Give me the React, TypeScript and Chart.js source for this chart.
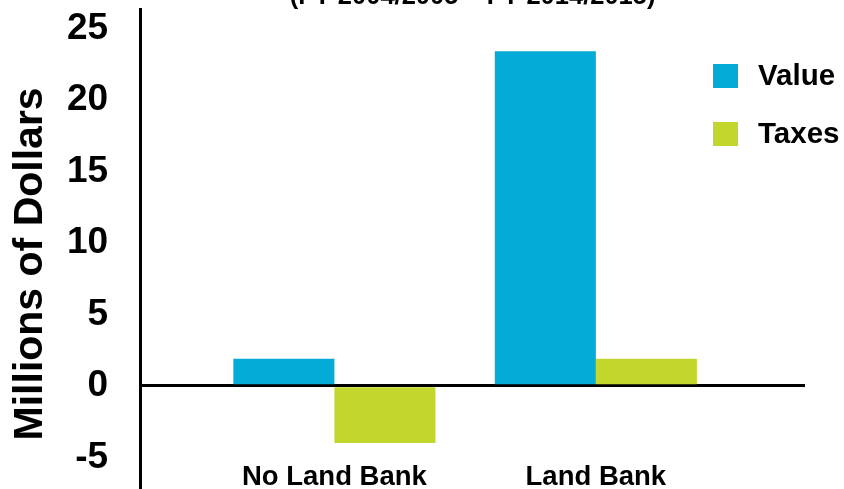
import React, { useEffect, useRef } from 'react';
import { Chart, registerables } from 'chart.js';

Chart.register(...registerables);

const chartTitle = '(FY 2004/2005 – FY 2014/2015)';
const yAxisTitle = 'Millions of Dollars';
const categories = ['No Land Bank', 'Land Bank'];
const seriesNames = ['Value', 'Taxes'];
const valueSeries = [1.9, 23.4];
const taxesSeries = [-4.0, 1.9];
const yTickValues = [-5, 0, 5, 10, 15, 20, 25];
const seriesColors = ['#03ACD7', '#C3D62E'];

const FAMILY = '"Liberation Sans", Arial, Helvetica, sans-serif';

const insideLegend = {
  id: 'insideLegend',
  afterDraw(chart: any) {
    const { ctx, chartArea } = chart;
    const x0 = chartArea.right - 92;
    const y0 = chartArea.top + 55;
    ctx.save();
    ctx.font = `bold 29.5px ${FAMILY}`;
    ctx.textBaseline = 'middle';
    ctx.textAlign = 'left';
    chart.data.datasets.forEach((ds: any, i: number) => {
      const y = y0 + i * 58;
      ctx.fillStyle = ds.backgroundColor;
      ctx.fillRect(x0, y, 25, 24);
      ctx.fillStyle = '#000';
      ctx.fillText(ds.label, x0 + 45, y + 13);
    });
    ctx.restore();
  },
};

export default function App() {
  const canvasRef = useRef<HTMLCanvasElement | null>(null);

  useEffect(() => {
    document.body.style.margin = '0';
    const canvas = canvasRef.current;
    if (!canvas) return;
    const toPoints = (arr: number[]) => arr.map((v, i) => ({ x: i, y: v }));
    const chart = new Chart(canvas, {
      type: 'bar',
      data: {
        datasets: [
          {
            label: seriesNames[0],
            data: toPoints(valueSeries),
            backgroundColor: seriesColors[0],
            borderWidth: 0,
            categoryPercentage: 0.773,
            barPercentage: 1.0,
          },
          {
            label: seriesNames[1],
            data: toPoints(taxesSeries),
            backgroundColor: seriesColors[1],
            borderWidth: 0,
            categoryPercentage: 0.773,
            barPercentage: 1.0,
          },
        ],
      },
      options: {
        responsive: false,
        animation: false,
        events: [],
        devicePixelRatio: 1,
        layout: { padding: { left: 0, right: 39, top: 0, bottom: 0 } },
        plugins: {
          legend: { display: false },
          tooltip: { enabled: false },
          title: {
            display: true,
            text: chartTitle,
            fullSize: false,
            color: '#000',
            font: { family: FAMILY, size: 25.5, weight: 'bold' },
            padding: { top: 10, bottom: -3.6 },
          },
        },
        scales: {
          x: {
            type: 'linear',
            min: -0.743,
            max: 1.8,
            offset: false,
            position: { y: -5.22 } as any,
            grid: { display: false, drawTicks: false, offset: false },
            border: { display: false },
            afterBuildTicks: (scale: any) => {
              scale.ticks = categories.map((_, i) => ({ value: i }));
            },
            ticks: {
              autoSkip: false,
              maxRotation: 0,
              padding: 0,
              color: '#000',
              font: { family: FAMILY, size: 27.5, weight: 'bold' },
              callback: (v: any) => categories[Math.round(Number(v))] ?? '',
            },
          },
          y: {
            type: 'linear',
            position: 'left',
            min: -9.3,
            max: 26.36,
            z: 1,
            afterBuildTicks: (scale: any) => {
              scale.ticks = yTickValues.map((v) => ({ value: v }));
            },
            grid: {
              drawTicks: true,
              tickLength: 32,
              tickColor: 'rgba(0,0,0,0)',
              color: (ctx: any) => (ctx.tick && ctx.tick.value === 0 ? '#000' : 'rgba(0,0,0,0)'),
              lineWidth: (ctx: any) => (ctx.tick && ctx.tick.value === 0 ? 3 : 0),
            },
            border: { display: true, color: '#000', width: 3 },
            ticks: {
              padding: 0,
              color: '#000',
              font: { family: FAMILY, size: 37, weight: 'bold' },
              callback: (v: any) => String(v),
            },
            title: {
              display: true,
              text: yAxisTitle,
              color: '#000',
              font: { family: FAMILY, size: 41, weight: 'bold' },
              padding: { top: 6.4, bottom: 11.4 },
            },
          },
        },
      },
      plugins: [insideLegend],
    } as any);
    return () => chart.destroy();
  }, []);

  return (
    <div
      style={{
        position: 'fixed',
        top: 0,
        left: 0,
        width: 844,
        height: 489,
        overflow: 'hidden',
        background: '#fff',
      }}
    >
      <canvas
        ref={canvasRef}
        width={844}
        height={569}
        style={{ display: 'block', width: 844, height: 569, marginTop: -28 }}
      />
    </div>
  );
}
